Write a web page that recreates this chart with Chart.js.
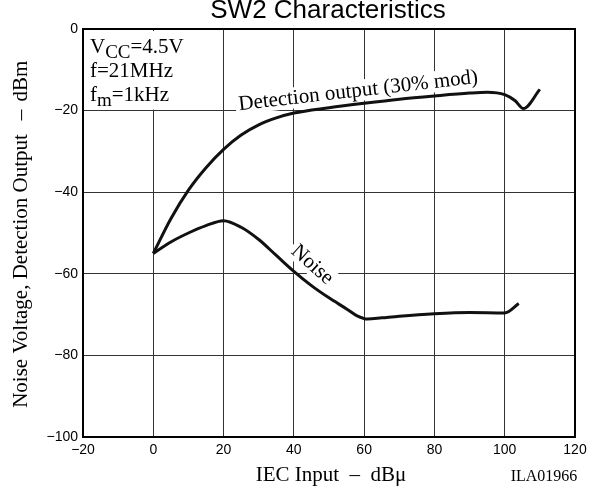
<!DOCTYPE html>
<html>
<head>
<meta charset="utf-8">
<script src="https://cdn.jsdelivr.net/npm/chart.js@4.4.0/dist/chart.umd.min.js"></script>
<style>
  html, body { margin: 0; padding: 0; background: #fff; }
  #wrap { width: 602px; height: 486px; position: relative; }
</style>
</head>
<body>
<div id="wrap"><canvas id="chart"></canvas></div>
<script>
const xTicks = [-20, 0, 20, 40, 60, 80, 100, 120];
const yTicks = [-100, -80, -60, -40, -20, 0];

// Detection output (30% mod), dBm vs IEC input dBu
const detectionX = [0, 5, 10, 15, 20, 25, 30, 35, 40, 50, 60, 70, 80, 90, 95, 100, 103, 105.3, 110];
const detectionY = [-55, -46.5, -39.5, -34, -29.5, -26, -23.5, -21.8, -20.6, -19.3, -18.2, -17.2, -16.4, -15.7, -15.5, -16.1, -17.6, -19.5, -14.8];

// Noise voltage
const noiseX = [0, 5, 10, 15, 20, 25, 30, 35, 40, 45, 50, 55, 58, 61, 65, 70, 80, 90, 100, 104];
const noiseY = [-55, -52.2, -50, -48.2, -47, -48.6, -51.6, -55.5, -59.4, -62.9, -65.9, -68.6, -70.3, -71.1, -70.8, -70.4, -69.8, -69.5, -69.6, -67.3];

const serif = '"Liberation Serif", "Times New Roman", serif';
const sans = '"Liberation Sans", Arial, sans-serif';

const fmt = v => (v < 0 ? '\u2212' + Math.abs(v) : String(v));

function toPoints(xs, ys) {
  return xs.map((v, i) => ({ x: v, y: ys[i] }));
}

// text with a white box behind it, rotated around its centre
function boxedText(ctx, text, cx, cy, deg, font) {
  ctx.save();
  ctx.translate(cx, cy);
  ctx.rotate(deg * Math.PI / 180);
  ctx.font = font;
  const w = ctx.measureText(text).width;
  ctx.fillStyle = '#fff';
  ctx.fillRect(-w / 2 - 3, -11, w + 6, 21);
  ctx.fillStyle = '#000';
  ctx.textAlign = 'center';
  ctx.textBaseline = 'middle';
  ctx.fillText(text, 0, 0);
  ctx.restore();
}

const annotations = {
  id: 'annotations',
  beforeDatasetsDraw(chart) {
    const { ctx, chartArea: a, scales: { x, y } } = chart;
    ctx.save();

    // conditions box in the top-left cell
    ctx.fillStyle = '#fff';
    ctx.fillRect(a.left + 2, a.top + 2, x.getPixelForValue(0) + 1 - a.left - 2, y.getPixelForValue(-20) - 1 - a.top - 2);
    ctx.fillStyle = '#000';
    ctx.textAlign = 'left';
    ctx.textBaseline = 'alphabetic';
    let px = a.left + 7;
    ctx.font = '21px ' + serif;
    ctx.fillText('V', px, 53);
    px += ctx.measureText('V').width;
    ctx.font = '19px ' + serif;
    ctx.fillText('CC', px, 58);
    px += ctx.measureText('CC').width;
    ctx.font = '21px ' + serif;
    ctx.fillText('=4.5V', px, 53);
    ctx.fillText('f=21MHz', a.left + 7, 77);
    px = a.left + 7;
    ctx.fillText('f', px, 101);
    px += ctx.measureText('f').width;
    ctx.font = '19px ' + serif;
    ctx.fillText('m', px, 106);
    px += ctx.measureText('m').width;
    ctx.font = '21px ' + serif;
    ctx.fillText('=1kHz', px, 101);

    // curve labels
    boxedText(ctx, 'Detection output (30% mod)', x.getPixelForValue(58.3), y.getPixelForValue(-15.2), -6.5, '21px ' + serif);
    boxedText(ctx, 'Noise', x.getPixelForValue(45.2), y.getPixelForValue(-57.8), 42, '21px ' + serif);

    // frame
    ctx.strokeStyle = '#000';
    ctx.lineWidth = 2;
    ctx.strokeRect(a.left, a.top, a.right - a.left, a.bottom - a.top);
    ctx.restore();
  },
  afterDraw(chart) {
    const { ctx } = chart;
    ctx.save();
    ctx.fillStyle = '#000';
    ctx.textBaseline = 'alphabetic';

    ctx.textAlign = 'center';
    ctx.font = '26px ' + sans;
    ctx.fillText('SW2 Characteristics', 328, 18);

    ctx.font = '21px ' + serif;
    ctx.fillText('IEC Input  \u2013  dB\u03bc', 331, 481);

    ctx.font = '16px ' + serif;
    ctx.fillText('ILA01966', 544, 481);

    // y axis title
    ctx.translate(27, 0);
    ctx.rotate(-Math.PI / 2);
    ctx.font = '21px ' + serif;
    ctx.fillText('Noise Voltage, Detection Output', -271, 0);
    ctx.fillText('\u2013', -115, 0);
    ctx.fillText('dBm', -81, 0);
    ctx.restore();
  }
};

new Chart(document.getElementById('chart'), {
  type: 'line',
  data: {
    datasets: [
      {
        label: 'Detection output (30% mod)',
        data: toPoints(detectionX, detectionY),
        borderColor: '#111',
        borderWidth: 3,
        pointRadius: 0,
        cubicInterpolationMode: 'monotone',
        fill: false
      },
      {
        label: 'Noise',
        data: toPoints(noiseX, noiseY),
        borderColor: '#111',
        borderWidth: 3,
        pointRadius: 0,
        cubicInterpolationMode: 'monotone',
        fill: false
      }
    ]
  },
  options: {
    responsive: true,
    maintainAspectRatio: false,
    animation: false,
    layout: { padding: { top: 29, right: 27, left: 0, bottom: 0 } },
    plugins: {
      legend: { display: false },
      tooltip: { enabled: false },
      title: { display: false }
    },
    scales: {
      x: {
        type: 'linear',
        min: -20,
        max: 120,
        afterBuildTicks: s => { s.ticks = xTicks.map(v => ({ value: v })); },
        afterFit: s => { s.height = 49; },
        grid: { color: '#333', lineWidth: 1, drawTicks: false },
        border: { display: false },
        ticks: { padding: 5, color: '#000', font: { family: 'Liberation Sans', size: 14 }, callback: fmt, maxRotation: 0 }
      },
      y: {
        type: 'linear',
        min: -100,
        max: 0,
        afterBuildTicks: s => { s.ticks = yTicks.map(v => ({ value: v })); },
        afterFit: s => { s.width = 83; },
        grid: { color: '#333', lineWidth: 1, drawTicks: false },
        border: { display: false },
        ticks: { padding: 5, color: '#000', font: { family: 'Liberation Sans', size: 14 }, callback: fmt }
      }
    }
  },
  plugins: [annotations]
});
</script>
</body>
</html>
